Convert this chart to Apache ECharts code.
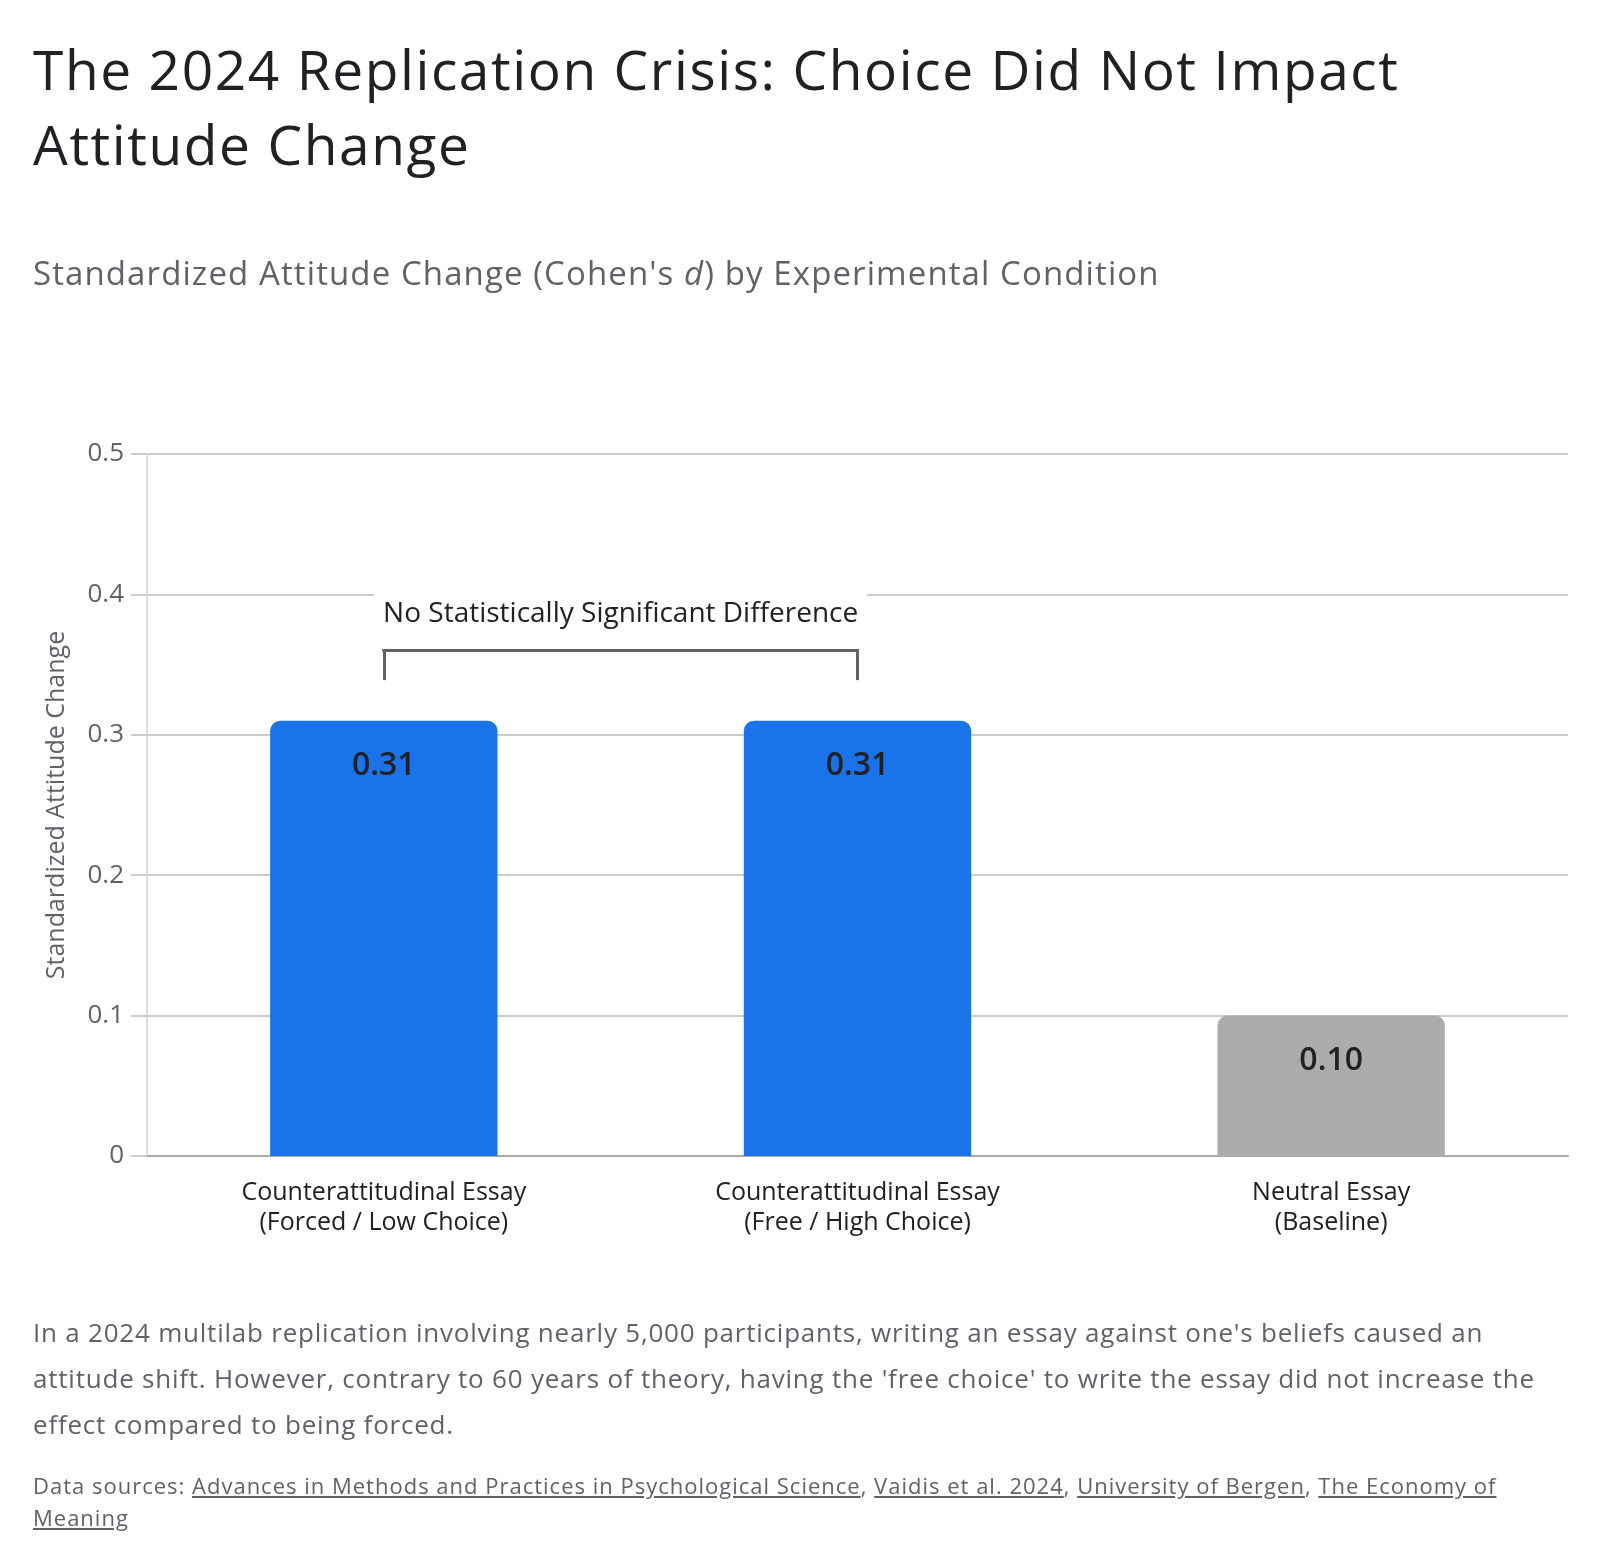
<!DOCTYPE html>
<html>
<head>
<meta charset="utf-8">
<script src="https://cdn.jsdelivr.net/npm/echarts@6/dist/echarts.min.js"></script>
<style>
  body { margin: 0; background: #fff; font-family: "Open Sans", Roboto, sans-serif; }
  #page { position: relative; width: 1600px; height: 1566px; overflow: hidden; }
  #chart { position: absolute; left: 0; top: 0; width: 1600px; height: 1566px; }
  .txt { position: absolute; left: 33px; white-space: nowrap; }
  #title { top: 31px; font-size: 55px; line-height: 75px; letter-spacing: 1.6px; color: #202124; }
  #subtitle { top: 252px; font-size: 33px; line-height: 42px; letter-spacing: 1.1px; color: #5f6368; }
  #note { top: 1309px; font-size: 26px; line-height: 46px; letter-spacing: 0.78px; color: #5f6368; }
  #sources { top: 1469px; font-size: 22px; line-height: 32px; letter-spacing: 1px; color: #5f6368; }
  #sources a { color: #5f6368; text-decoration: underline; }
</style>
</head>
<body>
<div id="page">
  <div id="chart"></div>
  <div id="title" class="txt">The 2024 Replication Crisis: Choice Did Not Impact<br>Attitude Change</div>
  <div id="subtitle" class="txt">Standardized Attitude Change (Cohen's <i>d</i>) by Experimental Condition</div>
  <div id="note" class="txt">In a 2024 multilab replication involving nearly 5,000 participants, writing an essay against one's beliefs caused an<br>attitude shift. However, contrary to 60 years of theory, having the 'free choice' to write the essay did not increase the<br>effect compared to being forced.</div>
  <div id="sources" class="txt">Data sources: <a>Advances in Methods and Practices in Psychological Science</a>, <a>Vaidis et al. 2024</a>, <a>University of Bergen</a>, <a>The Economy of</a><br><a>Meaning</a></div>
</div>
<script>
// data
var categories = [
    'Counterattitudinal Essay\n(Forced / Low Choice)',
    'Counterattitudinal Essay\n(Free / High Choice)',
    'Neutral Essay\n(Baseline)'
];
var effectSizes = [0.31, 0.31, 0.10];
var barColors = ['#1a73e8', '#1a73e8', '#ababab'];
var yTicks = { min: 0, max: 0.5, interval: 0.1 };

// bracket over the two essay bars
var bracketTop = 0.36;
var bracketFoot = 0.34;
var bracketText = 'No Statistically Significant Difference';

var myChart = echarts.init(document.getElementById('chart'));

var seriesData = [];
for (var i = 0; i < effectSizes.length; i++) {
    seriesData.push({
        value: effectSizes[i],
        itemStyle: { color: barColors[i] }
    });
}

option = {
    textStyle: { fontFamily: 'Open Sans' },
    grid: { left: 147, right: 32, top: 454, bottom: 410, containLabel: false },
    xAxis: {
        type: 'category',
        data: categories,
        axisLine: { lineStyle: { color: '#aaaaaa', width: 2 } },
        axisTick: { show: false },
        axisLabel: { fontSize: 25, lineHeight: 30, color: '#202124', margin: 22 }
    },
    yAxis: {
        type: 'value',
        min: yTicks.min,
        max: yTicks.max,
        interval: yTicks.interval,
        name: 'Standardized Attitude Change',
        nameLocation: 'middle',
        nameGap: 78,
        nameTextStyle: { fontSize: 25, color: '#5f6368' },
        axisLine: { show: true, lineStyle: { color: '#dddddd', width: 2 } },
        axisTick: { show: true, length: 16, lineStyle: { color: '#cccccc', width: 2 } },
        axisLabel: { fontSize: 26, color: '#5f6368', margin: 23 },
        splitLine: { lineStyle: { color: '#cccccc', width: 2 } }
    },
    series: [
        {
            type: 'bar',
            data: seriesData,
            barWidth: '48%',
            itemStyle: { borderRadius: [10, 10, 0, 0] },
            label: {
                show: true,
                position: 'insideTop',
                distance: 29,
                fontSize: 32,
                fontWeight: 600,
                color: '#202124',
                formatter: function (p) { return p.value.toFixed(2); }
            },
            markLine: {
                silent: true,
                symbol: ['none', 'none'],
                lineStyle: { color: '#5f6368', width: 3, type: 'solid', cap: 'square' },
                label: { show: false },
                emphasis: { disabled: true },
                data: [
                    [{ coord: [0, bracketFoot] }, { coord: [0, bracketTop] }],
                    [
                        {
                            coord: [0, bracketTop],
                            label: {
                                show: true,
                                position: 'middle',
                                distance: 12,
                                formatter: bracketText,
                                fontSize: 28,
                                lineHeight: 30,
                                color: '#202124',
                                backgroundColor: '#ffffff',
                                padding: [10, 9]
                            }
                        },
                        { coord: [1, bracketTop] }
                    ],
                    [{ coord: [1, bracketTop] }, { coord: [1, bracketFoot] }]
                ]
            }
        }
    ]
};

myChart.setOption(option);
</script>
</body>
</html>
